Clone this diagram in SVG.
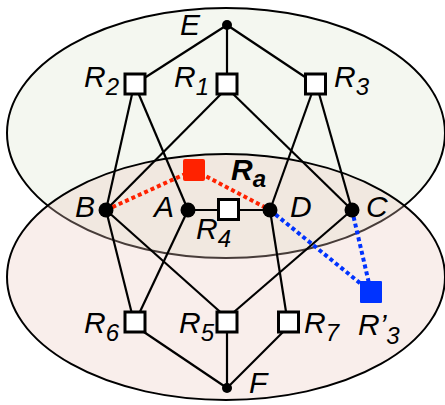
<svg xmlns="http://www.w3.org/2000/svg" width="445" height="405" viewBox="0 0 445 405">
<style>
.lbl{font-family:"Liberation Sans",Arial,sans-serif;font-style:italic;font-size:30px;fill:#000}
.sub{font-size:24px}
.edge{stroke:#000;stroke-width:2.2;fill:none}
.red{stroke:#ff2200;stroke-width:4;stroke-dasharray:4 3;fill:none}
.blue{stroke:#0033ff;stroke-width:4;stroke-dasharray:4 3;fill:none}
.sq{fill:#fff;stroke:#000;stroke-width:3}
.dot{fill:#000}
</style>
<rect width="445" height="405" fill="#fff"/>
<g id="regions">
<ellipse cx="226" cy="133" rx="219" ry="125" fill="#f4f7f0" stroke="#000" stroke-width="2"/>
<ellipse cx="226" cy="277" rx="219" ry="123" fill="rgb(236,198,190)" fill-opacity="0.3" stroke="#000" stroke-width="2"/>
</g>
<g id="connectors">
<line class="edge" x1="227" y1="25" x2="135" y2="84"/>
<line class="edge" x1="227" y1="25" x2="227" y2="84"/>
<line class="edge" x1="227" y1="25" x2="315.5" y2="84"/>
<line class="edge" x1="133" y1="90" x2="106" y2="210"/>
<line class="edge" x1="137" y1="90" x2="188" y2="210"/>
<line class="edge" x1="225" y1="90" x2="106" y2="210"/>
<line class="edge" x1="229" y1="90" x2="352" y2="210"/>
<line class="edge" x1="313" y1="90" x2="270" y2="210"/>
<line class="edge" x1="318" y1="90" x2="352" y2="210"/>
<line class="edge" x1="188" y1="210" x2="270" y2="210"/>
<line class="edge" x1="106" y1="210" x2="133" y2="318"/>
<line class="edge" x1="188" y1="210" x2="137" y2="318"/>
<line class="edge" x1="106" y1="210" x2="227" y2="318"/>
<line class="edge" x1="352" y1="210" x2="227" y2="318"/>
<line class="edge" x1="270" y1="210" x2="287" y2="318"/>
<line class="edge" x1="135" y1="326" x2="227" y2="388"/>
<line class="edge" x1="227" y1="326" x2="227" y2="388"/>
<line class="edge" x1="289" y1="326" x2="227" y2="388"/>
<line class="red" x1="106" y1="210" x2="194" y2="170"/>
<line class="red" x1="194" y1="170" x2="270" y2="210"/>
<line class="blue" x1="270" y1="210" x2="371" y2="292"/>
<line class="blue" x1="352" y1="210" x2="371" y2="292"/>
</g>
<g id="E"><circle class="dot" cx="227" cy="25" r="5"/><text class="lbl" x="180" y="35">E</text></g>
<g id="R2"><rect class="sq" x="125" y="74" width="20" height="20"/><text class="lbl" x="84" y="87">R<tspan class="sub" dy="8">2</tspan></text></g>
<g id="R1"><rect class="sq" x="217" y="74" width="20" height="20"/><text class="lbl" x="174" y="87">R<tspan class="sub" dy="8">1</tspan></text></g>
<g id="R3"><rect class="sq" x="305.5" y="74" width="20" height="20"/><text class="lbl" x="334" y="87">R<tspan class="sub" dy="8">3</tspan></text></g>
<g id="Ra"><rect x="183" y="159" width="22" height="22" rx="2" fill="#ff2200"/><text class="lbl" x="231" y="180" font-weight="bold">R<tspan class="sub" dy="7">a</tspan></text></g>
<g id="B"><circle class="dot" cx="106" cy="210" r="7.5"/><text class="lbl" x="75" y="217">B</text></g>
<g id="A"><circle class="dot" cx="188" cy="210" r="7.5"/><text class="lbl" x="154" y="217">A</text></g>
<g id="R4"><rect class="sq" x="218.5" y="199.5" width="20" height="20"/><text class="lbl" x="196" y="239">R<tspan class="sub" dy="8">4</tspan></text></g>
<g id="D"><circle class="dot" cx="270" cy="210" r="7.5"/><text class="lbl" x="290" y="217">D</text></g>
<g id="C"><circle class="dot" cx="352" cy="210" r="7.5"/><text class="lbl" x="366" y="217">C</text></g>
<g id="R3p"><rect x="360" y="281" width="22" height="22" rx="1" fill="#0033ff"/><text class="lbl" x="358" y="335">R’<tspan class="sub" dy="9">3</tspan></text></g>
<g id="R6"><rect class="sq" x="125" y="312" width="20" height="20"/><text class="lbl" x="84" y="333">R<tspan class="sub" dy="8">6</tspan></text></g>
<g id="R5"><rect class="sq" x="217" y="312" width="20" height="20"/><text class="lbl" x="179" y="333">R<tspan class="sub" dy="8">5</tspan></text></g>
<g id="R7"><rect class="sq" x="278.5" y="312" width="20" height="20"/><text class="lbl" x="304" y="333">R<tspan class="sub" dy="8">7</tspan></text></g>
<g id="F"><circle class="dot" cx="227" cy="388" r="5"/><text class="lbl" x="249" y="393">F</text></g>
</svg>
